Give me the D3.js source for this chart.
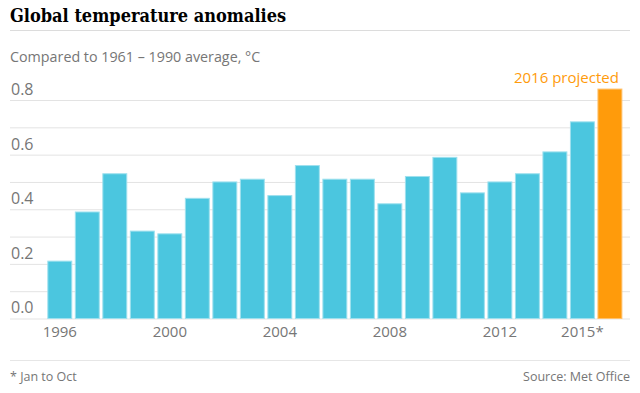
<!DOCTYPE html>
<html>
<head>
<meta charset="utf-8">
<script src="https://cdn.jsdelivr.net/npm/d3@7"></script>
<style>
  body { margin: 0; background: #fff; }
  svg { display: block; }
  .grid line { stroke: #e3e3e3; stroke-width: 1; }
  .grid path { display: none; }
  .axis path, .axis line { display: none; }
  .axis text { fill: #767676; font-family: "Open Sans", sans-serif; }
</style>
</head>
<body>
<div id="chart"></div>
<script>
// Dados
const years = ["1996","1997","1998","1999","2000","2001","2002","2003","2004","2005","2006",
  "2007","2008","2009","2010","2011","2012","2013","2014","2015","2016"];
const anomalies = [0.21, 0.39, 0.53, 0.32, 0.31, 0.44, 0.50, 0.51, 0.45, 0.56, 0.51,
  0.51, 0.42, 0.52, 0.59, 0.46, 0.50, 0.53, 0.61, 0.72, 0.84];
const xTickYears = ["1996","2000","2004","2008","2012","2015"];
const xTickLabels = ["1996","2000","2004","2008","2012","2015*"];
const yTicks = [0, 0.2, 0.4, 0.6, 0.8];
const gridTicks = [0, 0.1, 0.2, 0.3, 0.4, 0.5, 0.6, 0.7, 0.8];
const projectedYear = "2016";

const W = 640, H = 393;
const svg = d3.select("#chart").append("svg")
  .attr("width", W).attr("height", H);

const font = '"Open Sans", sans-serif';

// Título
svg.append("text")
  .attr("x", 10).attr("y", 22)
  .style("font-family", '"DejaVu Serif Condensed", "DejaVu Serif", serif')
  .style("font-stretch", "condensed")
  .style("font-weight", "bold")
  .style("font-size", "18px")
  .style("fill", "#000")
  .text("Global temperature anomalies");

svg.append("line")
  .attr("x1", 10).attr("x2", 630).attr("y1", 30.5).attr("y2", 30.5)
  .style("stroke", "#dcdcdc");

svg.append("text")
  .attr("x", 10).attr("y", 62)
  .style("font-family", font)
  .style("font-size", "14.3px")
  .style("fill", "#767676")
  .text("Compared to 1961 – 1990 average, °C");

const x = d3.scaleBand()
  .domain(years)
  .range([47, 622.7])
  .paddingInner(0.13)
  .paddingOuter(0.03);

const y = d3.scaleLinear()
  .domain([0, 0.8])
  .range([318.5, 100]);

// Linhas de grade
svg.append("g")
  .attr("class", "grid")
  .attr("transform", "translate(10,0)")
  .call(d3.axisLeft(y).tickValues(gridTicks).tickSize(-620).tickFormat(""));

// Rótulos do eixo y (acima das linhas)
svg.append("g")
  .attr("class", "axis")
  .call(d3.axisRight(y).tickValues(yTicks).tickSize(0).tickPadding(0).tickFormat(d3.format(".1f")))
  .call(g => g.selectAll("text")
    .attr("x", 11).attr("dy", "-0.35em")
    .style("font-size", "16px"));

// Barras
svg.selectAll(".bar")
  .data(years.map((d, i) => ({ year: d, value: anomalies[i] })))
  .join("rect")
    .attr("class", "bar")
    .attr("x", d => x(d.year))
    .attr("y", d => y(d.value))
    .attr("width", x.bandwidth())
    .attr("height", d => y(0) - y(d.value))
    .attr("fill", d => d.year === projectedYear ? "#ff9b0b" : "#4bc6df")
    .attr("stroke", d => d.year === projectedYear ? "#ffc06a" : "#9ee0ee")
    .attr("stroke-width", 1);

// Eixo x
svg.append("g")
  .attr("class", "axis")
  .attr("transform", "translate(0,320)")
  .call(d3.axisBottom(x).tickValues(xTickYears).tickSize(0).tickPadding(6)
    .tickFormat((d, i) => xTickLabels[i]))
  .call(g => g.selectAll("text").style("font-size", "15px"));

// Anotação
svg.append("text")
  .attr("x", x(projectedYear) + x.bandwidth() - 3)
  .attr("y", 83)
  .attr("text-anchor", "end")
  .style("font-family", font)
  .style("font-size", "15px")
  .style("fill", "#ff9b0b")
  .text("2016 projected");

// Rodapé
svg.append("line")
  .attr("x1", 10).attr("x2", 630).attr("y1", 360.5).attr("y2", 360.5)
  .style("stroke", "#e6e6e6");

svg.append("text")
  .attr("x", 10).attr("y", 381)
  .style("font-family", font)
  .style("font-size", "12.5px")
  .style("fill", "#767676")
  .text("* Jan to Oct");

svg.append("text")
  .attr("x", 630).attr("y", 381)
  .attr("text-anchor", "end")
  .style("font-family", font)
  .style("font-size", "12.5px")
  .style("fill", "#767676")
  .text("Source: Met Office");
</script>
</body>
</html>
